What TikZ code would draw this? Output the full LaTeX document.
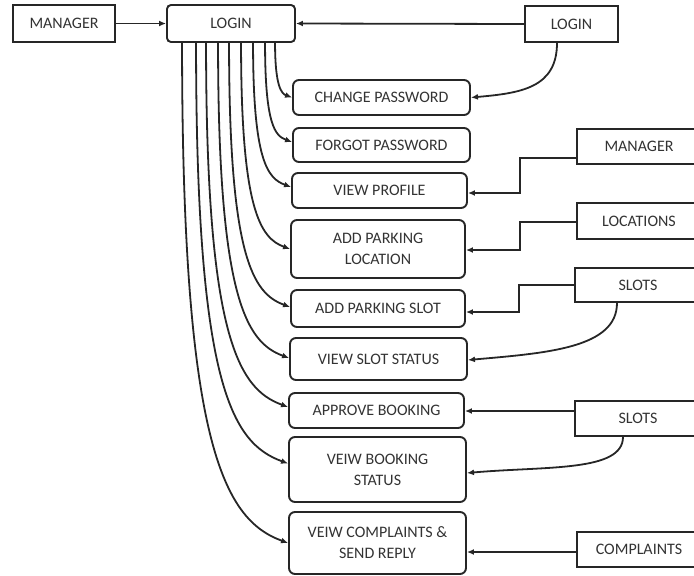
\documentclass[tikz,border=0pt]{standalone}
\usepackage{fontspec}
\setmainfont{Carlito}
\usetikzlibrary{arrows.meta}
\begin{document}
\begin{tikzpicture}[x=1pt,y=1pt,
  every node/.style={font=\fontsize{16}{21}\selectfont, text=black!80},
  sq/.style={draw=black!85, line width=1.9pt, inner sep=0pt, align=center},
  rd/.style={sq, rounded corners=6pt},
  arr/.style={draw=black!85, line width=1.8pt, -{Latex[length=7pt,width=6pt]}},
]
\useasboundingbox (0,0) rectangle (694,-576);
\clip (0,0) rectangle (694,-576);
% top row
\node[sq, minimum width=102pt, minimum height=37pt] (mgr) at (64,-23.5) {MANAGER};
\node[rd, rounded corners=4pt, minimum width=128pt, minimum height=37pt] (login) at (231,-23.5) {LOGIN};
\node[sq, minimum width=93pt, minimum height=36pt] (login2) at (571.5,-24) {LOGIN};
% middle column
\node[rd, minimum width=177pt, minimum height=35pt] (cp) at (381.5,-97.5) {CHANGE PASSWORD};
\node[rd, minimum width=177pt, minimum height=34pt] (fp) at (381.5,-145) {FORGOT PASSWORD};
\node[rd, minimum width=175pt, minimum height=35pt] (vp) at (379.5,-190.5) {VIEW PROFILE};
\node[rd, minimum width=174pt, minimum height=58pt] (apl) at (378,-249) {ADD PARKING\\LOCATION};
\node[rd, minimum width=174pt, minimum height=37pt] (aps) at (378,-308.5) {ADD PARKING SLOT};
\node[rd, minimum width=177pt, minimum height=42pt] (vss) at (378.5,-359) {VIEW SLOT STATUS};
\node[rd, minimum width=175pt, minimum height=35pt] (ab) at (376.5,-410.5) {APPROVE BOOKING};
\node[rd, minimum width=177pt, minimum height=65pt] (vbs) at (377.5,-469.5) {VEIW BOOKING\\STATUS};
\node[rd, minimum width=177pt, minimum height=62pt] (vcs) at (377.5,-543) {VEIW COMPLAINTS \&\\SEND REPLY};
% right column
\node[sq, minimum width=124pt, minimum height=35pt] (rm) at (639,-146.5) {MANAGER};
\node[sq, minimum width=124pt, minimum height=36pt] (rl) at (639,-221) {LOCATIONS};
\node[sq, minimum width=126pt, minimum height=34pt] (rs1) at (638,-285) {SLOTS};
\node[sq, minimum width=126pt, minimum height=35pt] (rs2) at (638,-418.5) {SLOTS};
\node[sq, minimum width=124pt, minimum height=35pt] (rc) at (639,-549.5) {COMPLAINTS};
% top connectors
\draw[arr] (mgr.east) -- (login.west);
\draw[arr] (login2.west) -- (login.east);
\draw[arr] ([xshift=-14.5pt]login2.south) to[out=-90,in=5,out distance=45pt,in distance=50pt] (cp.east);
% login fan
\draw[arr] ([xshift=109pt]login.south west) to[out=-90,in=160,out distance=44pt,in distance=11pt] (cp.west);
\draw[arr] ([xshift=99pt]login.south west) to[out=-90,in=160,out distance=82pt,in distance=18pt] ([yshift=3pt]fp.west);
\draw[arr] ([xshift=87pt]login.south west) to[out=-90,in=160,out distance=118pt,in distance=25pt] ([yshift=3.5pt]vp.west);
\draw[arr] ([xshift=75pt]login.south west) to[out=-90,in=160,out distance=166pt,in distance=32pt] (apl.west);
\draw[arr] ([xshift=63pt]login.south west) to[out=-90,in=160,out distance=213pt,in distance=40pt] ([yshift=1.5pt]aps.west);
\draw[arr] ([xshift=52pt]login.south west) to[out=-90,in=160,out distance=254pt,in distance=46pt] ([yshift=1pt]vss.west);
\draw[arr] ([xshift=40pt]login.south west) to[out=-90,in=160,out distance=294pt,in distance=53pt] ([yshift=3.5pt]ab.west);
\draw[arr] ([xshift=30pt]login.south west) to[out=-90,in=160,out distance=342pt,in distance=60pt] ([yshift=6pt]vbs.west);
\draw[arr] ([xshift=16pt]login.south west) to[out=-90,in=160,out distance=400pt,in distance=69pt] (vcs.west);
% right connectors
\draw[arr] ([yshift=-11.5pt]rm.west) -- ++(-56,0) |- ([yshift=-2.5pt]vp.east);
\draw[arr] ([yshift=-1pt]rl.west) -- ++(-56,0) |- ([yshift=-1pt]apl.east);
\draw[arr] (rs1.west) -- ++(-55,0) |- ([yshift=-3.5pt]aps.east);
\draw[arr] ([xshift=-21pt]rs1.south) to[out=-90,in=5,out distance=45pt,in distance=80pt] ([yshift=-1pt]vss.east);
\draw[arr] ([yshift=7.5pt]rs2.west) -- ([yshift=-0.5pt]ab.east);
\draw[arr] ([xshift=-15pt]rs2.south) to[out=-90,in=5,out distance=35pt,in distance=80pt] ([yshift=-3.5pt]vbs.east);
\draw[arr] ([yshift=-2.5pt]rc.west) -- ([yshift=-9pt]vcs.east);
\end{tikzpicture}
\end{document}
